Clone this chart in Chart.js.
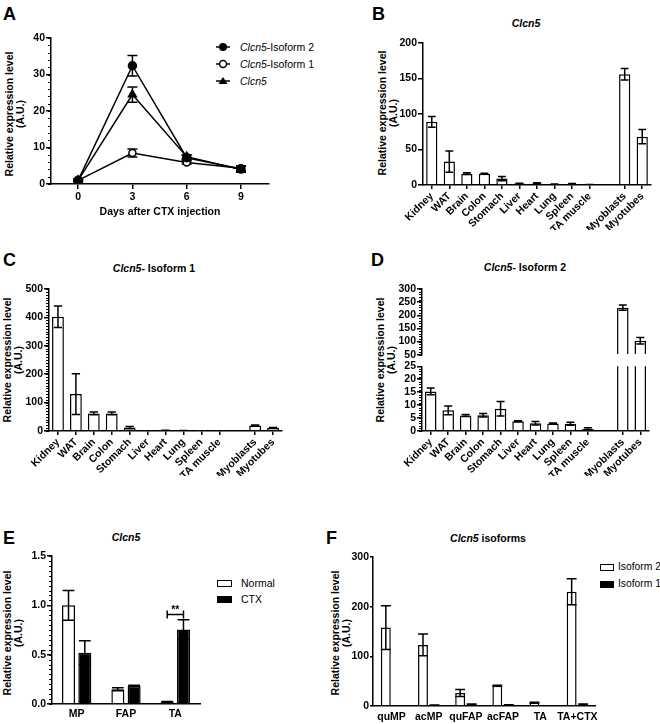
<!DOCTYPE html>
<html lang="en">
<head>
<meta charset="UTF-8">
<title>Clcn5 expression</title>
<script src="https://cdn.jsdelivr.net/npm/chart.js"></script>
<style>
  body { margin: 0; background: #fff; font-family: 'Liberation Sans', Arial, sans-serif; color: #000; }
  #fig { position: relative; width: 660px; height: 724px; overflow: hidden; }
  canvas { position: absolute; }
  .letter { position: absolute; font-weight: bold; font-size: 18px; line-height: 18px; }
  .ttl { position: absolute; font-weight: bold; font-size: 10.5px; line-height: 12px; white-space: nowrap; transform: translate(-50%, -50%); }
  .ytl { position: absolute; font-weight: bold; font-size: 10.5px; line-height: 11px; text-align: center; white-space: nowrap; transform: translate(-50%, -50%) rotate(-90deg); }
  .leg { position: absolute; font-size: 10.5px; line-height: 12px; height: 12px; width: max-content; white-space: nowrap; display: flex; align-items: center; }
  .leg > * { flex-shrink: 0; }
  .box { display: inline-block; width: 13px; height: 5px; border: 1.5px solid #000; background: #fff; margin-right: 9px; }
  .box.fill { background: #000; }
  .legF { font-size: 10.3px; }
  .legF .box { width: 12px; margin-right: 4px; }
</style>
</head>
<body>
<div id="fig">
  <div class="letter" style="left:3px;top:5px">A</div>
  <div class="letter" style="left:372px;top:5px">B</div>
  <div class="letter" style="left:3px;top:251px">C</div>
  <div class="letter" style="left:371px;top:251px">D</div>
  <div class="letter" style="left:3px;top:529px">E</div>
  <div class="letter" style="left:326px;top:529px">F</div>

  <div class="ttl" style="left:526px;top:23px"><i>Clcn5</i></div>
  <div class="ttl" style="left:154px;top:268px"><i>Clcn5</i>- Isoform 1</div>
  <div class="ttl" style="left:525px;top:267px"><i>Clcn5</i>- Isoform 2</div>
  <div class="ttl" style="left:126px;top:537px"><i>Clcn5</i></div>
  <div class="ttl" style="left:488px;top:538px"><i>Clcn5</i> isoforms</div>

  <div class="ytl" style="left:15px;top:114px">Relative expression level<br>(A.U.)</div>
  <div class="ytl" style="left:388px;top:113px">Relative expression level<br>(A.U.)</div>
  <div class="ytl" style="left:13px;top:360px">Relative expression level<br>(A.U.)</div>
  <div class="ytl" style="left:386px;top:360px">Relative expression level<br>(A.U.)</div>
  <div class="ytl" style="left:13px;top:633px">Relative expression level<br>(A.U.)</div>
  <div class="ytl" style="left:341px;top:633px">Relative expression level<br>(A.U.)</div>

  <!-- legend A -->
  <div class="leg" style="left:214px;top:41px"><svg width="26" height="12"><line x1="2" y1="6" x2="16" y2="6" stroke="#000" stroke-width="1.5"/><circle cx="9" cy="6" r="4" fill="#000"/></svg><span><i>Clcn5</i>-Isoform 2</span></div>
  <div class="leg" style="left:214px;top:58px"><svg width="26" height="12"><line x1="2" y1="6" x2="16" y2="6" stroke="#000" stroke-width="1.5"/><circle cx="9" cy="6" r="3.5" fill="#fff" stroke="#000" stroke-width="1.5"/></svg><span><i>Clcn5</i>-Isoform 1</span></div>
  <div class="leg" style="left:214px;top:75px"><svg width="26" height="12"><line x1="2" y1="6" x2="16" y2="6" stroke="#000" stroke-width="1.5"/><polygon points="9,2 13.5,9 4.5,9" fill="#000"/></svg><span><i>Clcn5</i></span></div>

  <!-- legend E -->
  <div class="leg" style="left:217px;top:577px"><span class="box"></span><span>Normal</span></div>
  <div class="leg" style="left:217px;top:593px"><span class="box fill"></span><span>CTX</span></div>

  <!-- legend F -->
  <div class="leg legF" style="left:600px;top:561px"><span class="box"></span><span>Isoform 2</span></div>
  <div class="leg legF" style="left:600px;top:578px"><span class="box fill"></span><span>Isoform 1</span></div>
</div>

<script>
  // ---- data ----
  const days = [0, 3, 6, 9];
  const iso2Time = [1, 32.4, 7.2, 4.1];
  const iso2TimeErr = [0.3, 2.8, 0.6, 0.8];
  const iso1Time = [1, 8.5, 5.9, 4.3];
  const iso1TimeErr = [0.2, 1.1, 0.4, 0.7];
  const clcn5Time = [1, 24.5, 7.5, 4.0];
  const clcn5TimeErr = [0.2, 2.1, 0.5, 0.8];

  const tissues = ['Kidney', 'WAT', 'Brain', 'Colon', 'Stomach', 'Liver', 'Heart', 'Lung', 'Spleen', 'TA muscle', 'Myoblasts', 'Myotubes'];
  const clcn5Tissue = [89, 33, 16, 16, 9, 2, 2, 1, 1.5, 0.5, 156, 68];
  const clcn5TissueErr = [7.5, 15, 1.2, 0.5, 3, 0.5, 1, 0.3, 0.5, 0.2, 8, 10];
  const iso1Tissue = [402, 130, 62, 62, 12, 0.5, 2, 1.5, 0.3, 0.8, 19, 10.5];
  const iso1TissueErr = [38, 72, 5, 5, 4, 0.2, 1, 0.5, 0.1, 0.3, 2, 2];
  const iso2Tissue = [15.3, 8, 6, 6.1, 8.6, 3.8, 3, 2.9, 2.8, 0.9, 229, 103];
  const iso2TissueErr = [1.3, 1.7, 0.4, 0.7, 2.8, 0.2, 0.7, 0.2, 0.6, 0.4, 10, 12];

  const cellTypes = ['MP', 'FAP', 'TA'];
  const normalCells = [1.0, 0.15, 0.02];
  const normalCellsErr = [0.15, 0.015, 0.005];
  const ctxCells = [0.52, 0.185, 0.755];
  const ctxCellsErr = [0.12, 0.005, 0.1];
  const sigLevelE = 0.91;

  const sources = ['quMP', 'acMP', 'quFAP', 'acFAP', 'TA', 'TA+CTX'];
  const iso2Source = [158, 123, 26, 41, 6.5, 230];
  const iso2SourceErr = [44, 22, 7, 1, 1, 26];
  const iso1Source = [0.5, 1.5, 3, 2, 0.5, 3];
  const iso1SourceErr = [0.2, 0.3, 1, 0.5, 0.2, 1];

  // ---- defaults ----
  Chart.defaults.font.family = "'Liberation Sans', Arial, sans-serif";
  Chart.defaults.font.size = 10.5;
  Chart.defaults.font.weight = 'bold';
  Chart.defaults.color = '#000';
  const tickFont = { family: "'Liberation Sans', Arial, sans-serif", size: 10.5, weight: 'bold' };

  // error bars drawn from the data through the chart's own scales
  const errorBars = {
    id: 'errorBars',
    defaults: { behind: false, cap: 0.7, capPx: 0 },
    beforeDatasetsDraw(chart, args, o) { if (o.behind) drawErrors(chart, o); },
    afterDatasetsDraw(chart, args, o) { if (!o.behind) drawErrors(chart, o); }
  };
  function drawErrors(chart, o) {
    const ctx = chart.ctx, a = chart.chartArea;
    ctx.save();
    ctx.beginPath();
    ctx.rect(a.left - 10, a.top - 1, a.right - a.left + 20, a.bottom - a.top + 1);
    ctx.clip();
    ctx.strokeStyle = '#000';
    ctx.lineWidth = 1.5;
    chart.data.datasets.forEach((ds, i) => {
      if (!ds.errors) return;
      const meta = chart.getDatasetMeta(i);
      const ys = chart.scales[meta.yAxisID];
      meta.data.forEach((el, j) => {
        const raw = ds.data[j];
        const v = (raw !== null && typeof raw === 'object') ? raw.y : raw;
        const e = ds.errors[j];
        if (v == null || e == null) return;
        const hi = ys.getPixelForValue(v + e), lo = ys.getPixelForValue(v - e);
        const w = o.capPx || el.width * o.cap;
        ctx.beginPath();
        ctx.moveTo(el.x, hi); ctx.lineTo(el.x, lo);
        ctx.moveTo(el.x - w / 2, hi); ctx.lineTo(el.x + w / 2, hi);
        ctx.moveTo(el.x - w / 2, lo); ctx.lineTo(el.x + w / 2, lo);
        ctx.stroke();
      });
    });
    ctx.restore();
  }

  // small minor ticks on the y axis
  const minorTicks = {
    id: 'minorTicks',
    afterDraw(chart, args, o) {
      if (!o.step) return;
      const s = chart.scales.y, ctx = chart.ctx;
      const n = Math.round((s.max - s.min) / o.step);
      ctx.save();
      ctx.strokeStyle = '#000';
      ctx.lineWidth = 1;
      ctx.beginPath();
      for (let i = 0; i <= n; i++) {
        const y = Math.round(s.getPixelForValue(s.min + i * o.step)) + 0.5;
        ctx.moveTo(s.right - (o.len || 3), y);
        ctx.lineTo(s.right, y);
      }
      ctx.stroke();
      ctx.restore();
    }
  };

  // significance bracket between the two bars of one group
  const sigBracket = {
    id: 'sigBracket',
    afterDatasetsDraw(chart, args, o) {
      if (!o.text) return;
      const ctx = chart.ctx;
      const a = chart.getDatasetMeta(0).data[o.index];
      const b = chart.getDatasetMeta(1).data[o.index];
      const y = Math.round(chart.scales.y.getPixelForValue(o.value)) + 0.5;
      ctx.save();
      ctx.strokeStyle = '#000';
      ctx.lineWidth = 1.5;
      ctx.beginPath();
      ctx.moveTo(a.x, y); ctx.lineTo(b.x, y);
      ctx.moveTo(a.x, y - 4); ctx.lineTo(a.x, y + 4);
      ctx.moveTo(b.x, y - 4); ctx.lineTo(b.x, y + 4);
      ctx.stroke();
      ctx.fillStyle = '#000';
      ctx.font = "bold 10.5px 'Liberation Sans', Arial, sans-serif";
      ctx.textAlign = 'center';
      ctx.textBaseline = 'alphabetic';
      ctx.fillText(o.text, (a.x + b.x) / 2, y - 2);
      ctx.restore();
    }
  };

  Chart.register(errorBars, minorTicks, sigBracket);

  // ---- helpers ----
  const blank = 'rgba(0,0,0,0)';
  const axisBorder = { color: '#000', width: 1.5 };

  function yAxis(min, max, step, tickLen) {
    return {
      min: min, max: max,
      ticks: { stepSize: step, padding: 1, color: '#000', font: tickFont, autoSkip: false },
      grid: { drawOnChartArea: false, color: '#000', lineWidth: 1.5, tickLength: tickLen || 5 },
      border: axisBorder
    };
  }

  function tissueAxis(show) {
    return {
      display: show,
      grid: { drawOnChartArea: false, offset: false, tickLength: 4, lineWidth: 1.5,
              color: c => (c.tick && c.tick.label === '') ? blank : '#000' },
      border: axisBorder,
      ticks: { autoSkip: false, minRotation: 45, maxRotation: 45, padding: 1, color: '#000', font: tickFont }
    };
  }

  function groupAxis(pad) {
    return {
      grid: { display: true, drawOnChartArea: false, drawTicks: false },
      border: axisBorder,
      ticks: { padding: pad, color: '#000', font: tickFont, autoSkip: false, minRotation: 0, maxRotation: 0 }
    };
  }

  // insert an empty slot between the tissues and the cultured cells
  function withGap(arr, fill) {
    return [...arr.slice(0, 10), fill, ...arr.slice(10)];
  }

  function panel(box, config) {
    const c = document.createElement('canvas');
    const pb = box.pb || 0;
    const w = box.r - box.l + box.yw + box.pr;
    const h = box.b - box.t + box.pt + box.xh + pb;
    c.width = w; c.height = h;
    c.style.left = (box.l - box.yw) + 'px';
    c.style.top = (box.t - box.pt) + 'px';
    document.getElementById('fig').appendChild(c);
    const opt = config.options;
    opt.responsive = false;
    opt.animation = false;
    opt.layout = { padding: { top: box.pt, right: box.pr, bottom: pb, left: 0 } };
    opt.scales.y.afterFit = s => { s.width = box.yw; };
    if (box.xh) opt.scales.x.afterFit = s => { s.height = box.xh; };
    opt.plugins = Object.assign({ legend: { display: false }, tooltip: { enabled: false } }, opt.plugins || {});
    return new Chart(c, config);
  }

  function lineSet(label, ys, errs, style) {
    return Object.assign({
      label: label,
      data: days.map((d, i) => ({ x: d, y: ys[i] })),
      errors: errs,
      borderColor: '#000',
      borderWidth: 1.5,
      pointBorderColor: '#000',
      pointBorderWidth: 1.5,
      tension: 0
    }, style);
  }

  // ---- A: time course ----
  panel({ l: 51, r: 273, t: 38, b: 184, yw: 51, xh: 36, pt: 8, pr: 2 }, {
    type: 'line',
    data: {
      datasets: [
        lineSet('Clcn5-Isoform 2', iso2Time, iso2TimeErr, { pointStyle: 'circle', pointRadius: 4, pointBackgroundColor: '#000' }),
        lineSet('Clcn5-Isoform 1', iso1Time, iso1TimeErr, { pointStyle: 'circle', pointRadius: 3.5, pointBackgroundColor: '#fff' }),
        lineSet('Clcn5', clcn5Time, clcn5TimeErr, { pointStyle: 'triangle', pointRadius: 4.5, pointBackgroundColor: '#000' })
      ]
    },
    options: {
      scales: {
        x: {
          type: 'linear', min: -1.5, max: 10.55,
          afterBuildTicks: s => { s.ticks = days.map(v => ({ value: v })); },
          ticks: { padding: 2, color: '#000', font: tickFont },
          grid: { drawOnChartArea: false, color: '#000', lineWidth: 1.5, tickLength: 5 },
          border: axisBorder,
          title: { display: true, text: 'Days after CTX injection', color: '#000', font: tickFont, padding: { top: 0, bottom: 2 } }
        },
        y: yAxis(0, 40, 10)
      },
      plugins: { errorBars: { behind: true, capPx: 10 }, minorTicks: { step: 2, len: 3 } }
    }
  });

  // ---- B: Clcn5 in tissues ----
  panel({ l: 423, r: 651, t: 43, b: 185, yw: 51, xh: 45, pt: 8, pr: 5 }, {
    type: 'bar',
    data: {
      labels: withGap(tissues, ''),
      datasets: [{
        data: withGap(clcn5Tissue, null), errors: withGap(clcn5TissueErr, null),
        backgroundColor: '#fff', borderColor: '#000', borderWidth: 1.5,
        categoryPercentage: 1, barPercentage: 0.64
      }]
    },
    options: {
      scales: { x: tissueAxis(true), y: yAxis(0, 200, 50) },
      plugins: { errorBars: { cap: 0.7 } }
    }
  });

  // ---- C: isoform 1 in tissues ----
  panel({ l: 49, r: 282, t: 289, b: 431, yw: 49, xh: 45, pt: 8, pr: 5 }, {
    type: 'bar',
    data: {
      labels: withGap(tissues, ''),
      datasets: [{
        data: withGap(iso1Tissue, null), errors: withGap(iso1TissueErr, null),
        backgroundColor: '#fff', borderColor: '#000', borderWidth: 1.5,
        categoryPercentage: 1, barPercentage: 0.66
      }]
    },
    options: {
      scales: { x: tissueAxis(true), y: yAxis(0, 500, 100) },
      plugins: { errorBars: { cap: 0.7 }, minorTicks: { step: 10, len: 3 } }
    }
  });

  // ---- D: isoform 2 in tissues, broken y axis (upper + lower segment) ----
  const upperMin = 50;
  panel({ l: 422, r: 649, t: 289, b: 355, yw: 52, xh: 0, pt: 8, pr: 5, pb: 7 }, {
    type: 'bar',
    data: {
      labels: withGap(tissues, ''),
      datasets: [{
        data: withGap(iso2Tissue.map(v => v >= upperMin ? v : null), null),
        errors: withGap(iso2TissueErr, null),
        backgroundColor: '#fff', borderColor: '#000', borderWidth: 1.5,
        categoryPercentage: 1, barPercentage: 0.66, base: upperMin, clip: 0
      }]
    },
    options: {
      scales: { x: tissueAxis(false), y: yAxis(upperMin, 300, 50) },
      plugins: { errorBars: { cap: 0.7 }, minorTicks: { step: 10, len: 3 } }
    }
  });
  panel({ l: 422, r: 649, t: 366, b: 431, yw: 52, xh: 45, pt: 7, pr: 5 }, {
    type: 'bar',
    data: {
      labels: withGap(tissues, ''),
      datasets: [{
        data: withGap(iso2Tissue, null), errors: withGap(iso2TissueErr, null),
        backgroundColor: '#fff', borderColor: '#000', borderWidth: 1.5,
        categoryPercentage: 1, barPercentage: 0.66, clip: 0
      }]
    },
    options: {
      scales: { x: tissueAxis(true), y: yAxis(0, 25, 5) },
      plugins: { errorBars: { cap: 0.7 }, minorTicks: { step: 1, len: 3 } }
    }
  });

  // ---- E: cell populations, normal vs CTX ----
  const yE = yAxis(0, 1.5, 0.5);
  yE.ticks.callback = v => Number(v).toFixed(1);
  panel({ l: 52, r: 200, t: 556, b: 704, yw: 52, xh: 18, pt: 8, pr: 5 }, {
    type: 'bar',
    data: {
      labels: cellTypes,
      datasets: [
        { label: 'Normal', data: normalCells, errors: normalCellsErr, backgroundColor: '#fff', borderColor: '#000', borderWidth: 1.5, categoryPercentage: 0.66, barPercentage: 0.8 },
        { label: 'CTX', data: ctxCells, errors: ctxCellsErr, backgroundColor: '#000', borderColor: '#000', borderWidth: 1.5, categoryPercentage: 0.66, barPercentage: 0.8 }
      ]
    },
    options: {
      scales: { x: groupAxis(4), y: yE },
      plugins: { errorBars: { cap: 0.9 }, minorTicks: { step: 0.05, len: 3 }, sigBracket: { index: 2, value: sigLevelE, text: '**' } }
    }
  });

  // ---- F: isoforms in sorted cells ----
  panel({ l: 373, r: 598, t: 557, b: 706, yw: 30, xh: 18, pt: 8, pr: 5 }, {
    type: 'bar',
    data: {
      labels: sources,
      datasets: [
        { label: 'Isoform 2', data: iso2Source, errors: iso2SourceErr, backgroundColor: '#fff', borderColor: '#000', borderWidth: 1.5, categoryPercentage: 0.62, barPercentage: 0.86 },
        { label: 'Isoform 1', data: iso1Source, errors: iso1SourceErr, backgroundColor: '#000', borderColor: '#000', borderWidth: 1.5, categoryPercentage: 0.62, barPercentage: 0.86 }
      ]
    },
    options: {
      scales: { x: groupAxis(5), y: yAxis(0, 300, 100, 3) },
      plugins: { errorBars: { cap: 1 } }
    }
  });
</script>
</body>
</html>
